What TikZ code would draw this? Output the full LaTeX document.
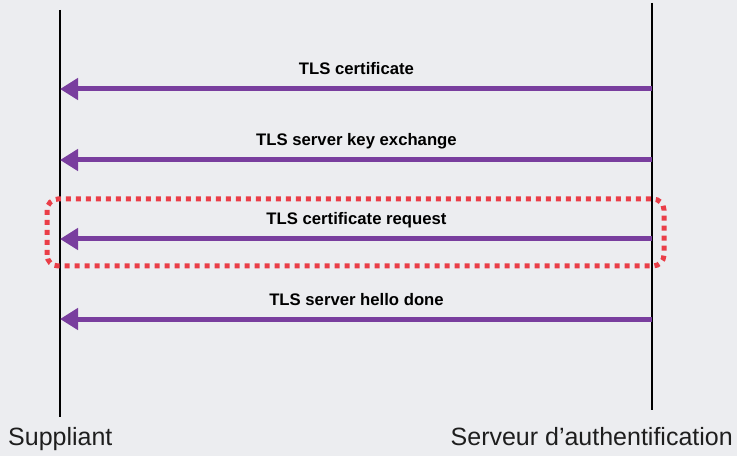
\documentclass[tikz,border=0pt]{standalone}
\usepackage{fontspec}
\setmainfont{Liberation Sans}
\usetikzlibrary{arrows.meta}
\definecolor{bgc}{RGB}{236,237,240}
\definecolor{msgc}{RGB}{121,62,158}
\definecolor{boxc}{RGB}{234,62,72}
\definecolor{txtc}{RGB}{30,30,30}
\tikzset{
  lifeline/.style={line width=1.5pt, black},
  msg/.style={line width=5pt, msgc, -{Triangle[length=18pt,width=21pt]}, shorten >=0pt},
  msglabel/.style={font=\bfseries\fontsize{16.7}{18}\selectfont, anchor=base, inner sep=0pt},
  actor/.style={font=\fontsize{25}{28}\selectfont, text=txtc, inner sep=0pt},
  hilite/.style={boxc, line width=5pt, dash pattern=on 5pt off 5pt, rounded corners=11pt}
}
\begin{document}
\begin{tikzpicture}[x=1pt,y=1pt]
\fill[bgc] (0,0) rectangle (737,456);
\useasboundingbox (0,0) rectangle (737,456);
% lifelines
\coordinate (stop) at (60,446);
\coordinate (sbot) at (60,39);
\coordinate (atop) at (652,453);
\coordinate (abot) at (652,46);
\draw[lifeline] (stop) -- (sbot);
\draw[lifeline] (atop) -- (abot);
% highlight box
\coordinate (hl1) at (47,190);
\coordinate (hl2) at (664,257);
\draw[hilite] (hl1) rectangle (hl2);
% message endpoints
\coordinate (a1) at (652,367);
\coordinate (s1) at (60,367);
\coordinate (a2) at (652,296);
\coordinate (s2) at (60,296);
\coordinate (a3) at (652,217);
\coordinate (s3) at (60,217);
\coordinate (a4) at (652,137);
\coordinate (s4) at (60,137);
\draw[msg] (a1) -- (s1);
\draw[msg] (a2) -- (s2);
\draw[msg] (a3) -- (s3);
\draw[msg] (a4) -- (s4);
\node[msglabel] (l1) at (356.5,381) {TLS certificate};
\node[msglabel] (l2) at (356.5,310) {TLS server key exchange};
\node[msglabel] (l3) at (356.5,231) {TLS certificate request};
\node[msglabel] (l4) at (356.5,151) {TLS server hello done};
% actors
\node[actor, anchor=base west] (sup) at (8,10.5) {Suppliant};
\node[actor, anchor=base east] (srv) at (733,10.5) {Serveur d’authentification};
\end{tikzpicture}
\end{document}
